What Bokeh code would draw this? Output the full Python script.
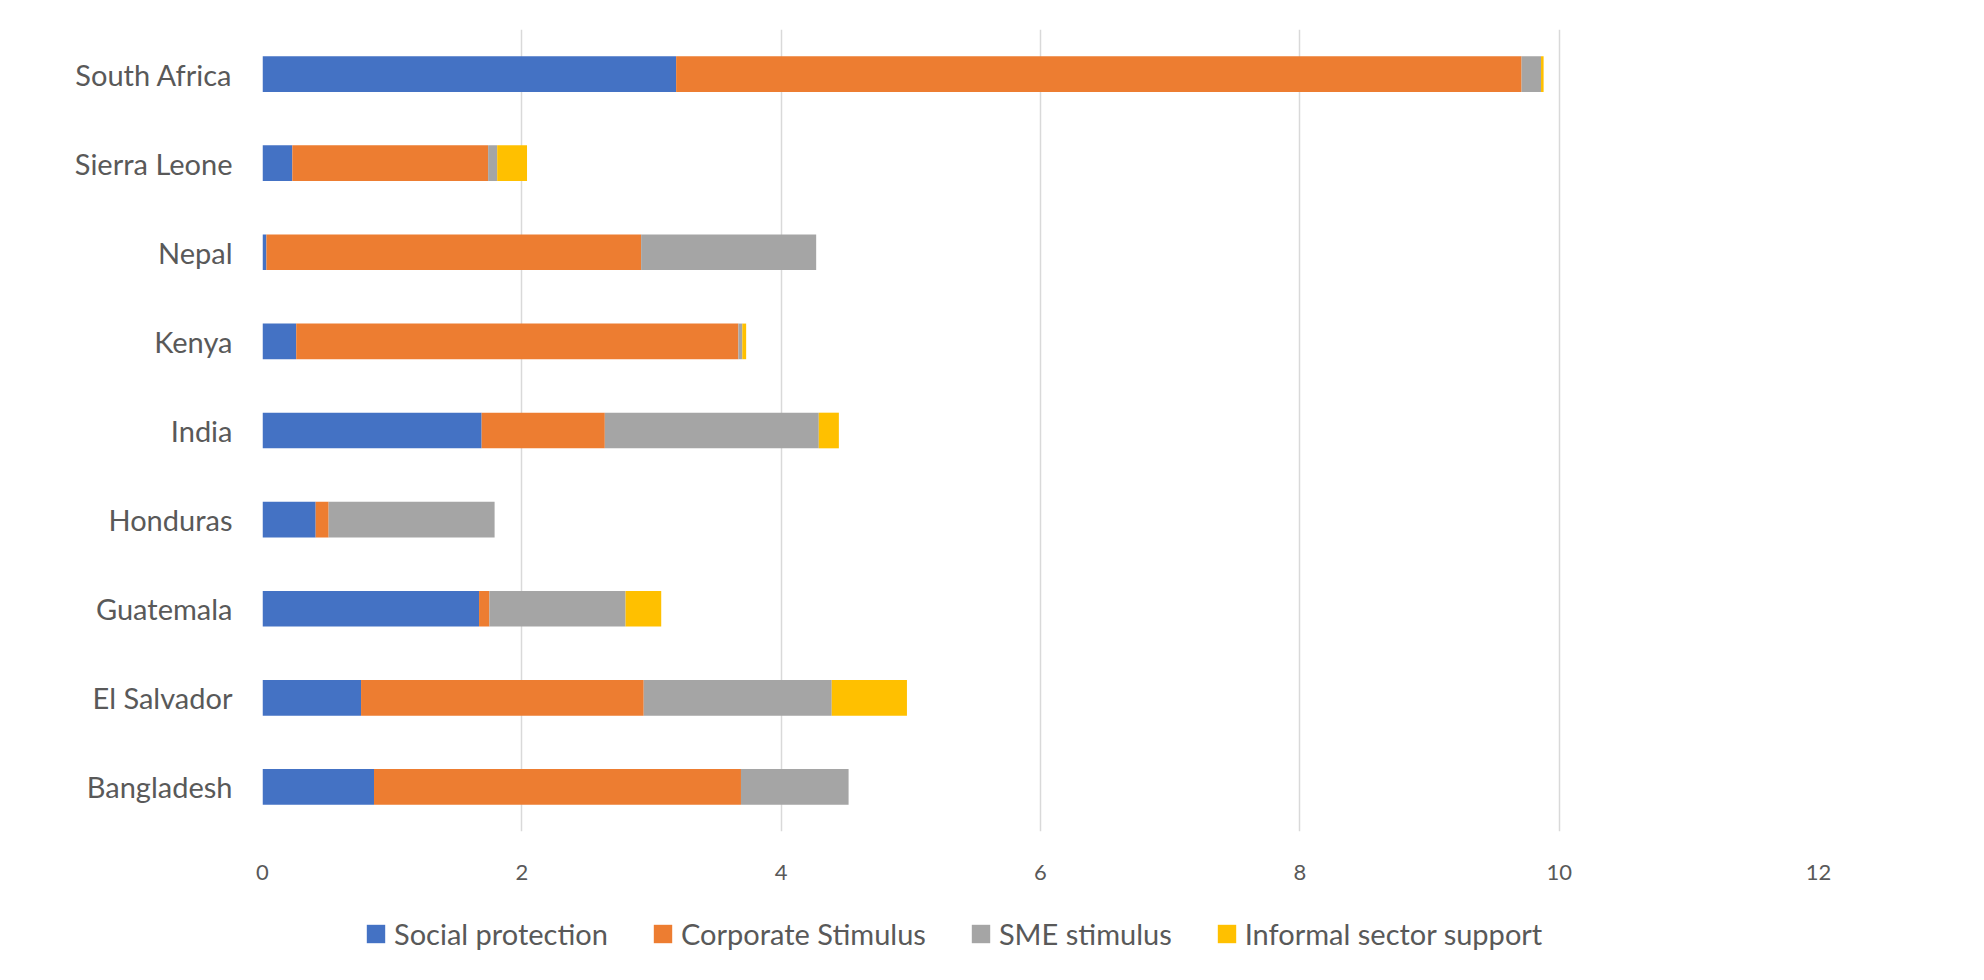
from bokeh.plotting import figure
from bokeh.layouts import column
from bokeh.models import ColumnDataSource, FactorRange, Range1d, FixedTicker, Legend, LegendItem
from bokeh.embed import file_html
from bokeh.resources import INLINE

countries = ["Bangladesh", "El Salvador", "Guatemala", "Honduras", "India",
             "Kenya", "Nepal", "Sierra Leone", "South Africa"]
social_protection = [0.86, 0.76, 1.67, 0.41, 1.69, 0.26, 0.03, 0.23, 3.19]
corporate_stimulus = [2.83, 2.18, 0.08, 0.10, 0.95, 3.41, 2.89, 1.51, 6.52]
sme_stimulus = [0.83, 1.45, 1.05, 1.28, 1.65, 0.03, 1.35, 0.07, 0.15]
informal_support = [0.00, 0.58, 0.275, 0.00, 0.155, 0.03, 0.00, 0.23, 0.02]
series_names = ["Social protection", "Corporate Stimulus", "SME stimulus", "Informal sector support"]
x_ticks = [0, 2, 4, 6, 8, 10, 12]

colors = ["#4472C4", "#ED7D31", "#A5A5A5", "#FFC000"]
keys = ["sp", "cs", "sme", "inf"]
FONT = "Lato"
TXT = "#595959"

source = ColumnDataSource(dict(country=countries, sp=social_protection, cs=corporate_stimulus,
                               sme=sme_stimulus, inf=informal_support))

p = figure(width=1968, height=900, y_range=FactorRange(factors=countries),
           x_range=Range1d(0, 12), output_backend="svg", toolbar_location=None,
           min_border_left=262, min_border_right=150, min_border_top=29, min_border_bottom=69)

renderers = p.hbar_stack(keys, y="country", height=0.4, color=colors, source=source,
                         line_color=None)

p.outline_line_color = None
p.background_fill_color = "white"
p.border_fill_color = "white"

p.xaxis.ticker = FixedTicker(ticks=x_ticks)
p.xaxis.axis_line_color = None
p.xaxis.major_tick_line_color = None
p.xaxis.minor_tick_line_color = None
p.xaxis.major_tick_out = 0
p.xaxis.major_label_standoff = 33
p.xaxis.major_label_text_font = FONT
p.xaxis.major_label_text_font_size = "22px"
p.xaxis.major_label_text_color = TXT

p.yaxis.axis_line_color = None
p.yaxis.major_tick_line_color = None
p.yaxis.major_tick_out = 0
p.yaxis.major_label_standoff = 30
p.yaxis.major_label_text_font = FONT
p.yaxis.major_label_text_font_size = "29px"
p.yaxis.major_label_text_color = TXT

p.xgrid.grid_line_color = "#d9d9d9"
p.xgrid.grid_line_width = 1.5
p.ygrid.grid_line_color = None

# legend strip below the chart (hidden copies of the stacks supply the legend swatches)
pl = figure(width=1968, height=64, x_range=Range1d(0, 12), y_range=FactorRange(factors=countries),
            output_backend="svg", toolbar_location=None,
            x_axis_location=None, y_axis_location=None,
            min_border_left=0, min_border_right=0, min_border_top=0, min_border_bottom=0)
pl.outline_line_color = None
pl.grid.visible = False
leg_rs = pl.hbar_stack(keys, y="country", height=0.4, color=colors, source=source,
                       line_color=None, visible=False)

items = [LegendItem(label=n, renderers=[r]) for n, r in zip(series_names, leg_rs)]
legend = Legend(items=items, orientation="horizontal", location=(102, 13),
                glyph_width=23, glyph_height=23, label_standoff=7, spacing=43,
                padding=0, margin=0, border_line_color=None, background_fill_alpha=0,
                label_text_font=FONT, label_text_font_size="29px", label_text_color=TXT)
pl.add_layout(legend, "center")

layout = column(p, pl, spacing=0)
open("out.html", "w").write(file_html(layout, INLINE))
